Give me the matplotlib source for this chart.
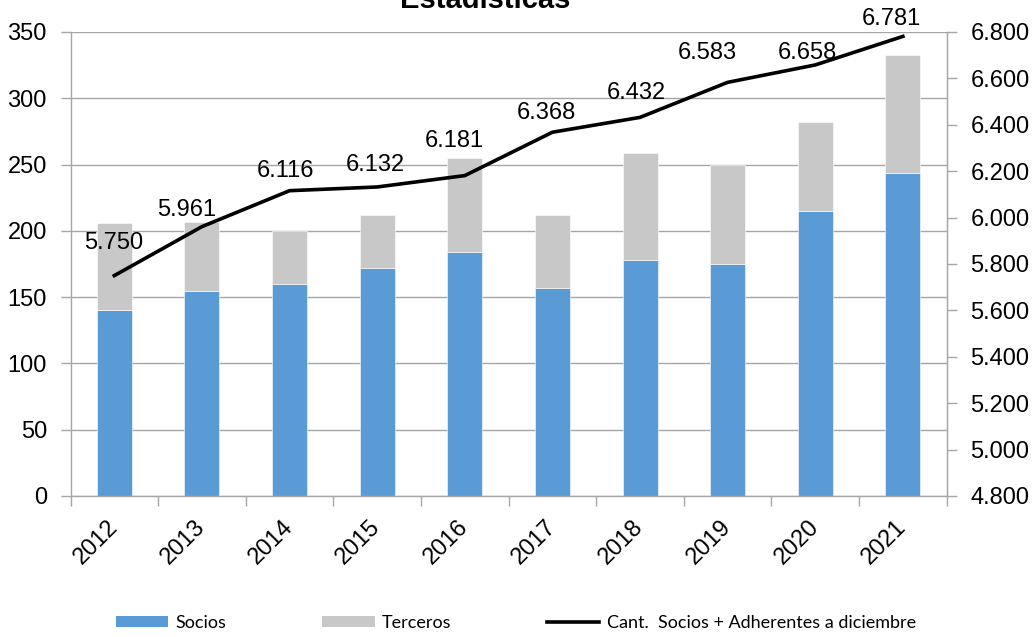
import numpy as np
import matplotlib

matplotlib.use("Agg")
import matplotlib.pyplot as plt
from matplotlib.lines import Line2D
from matplotlib.patches import Patch

years = ["2012", "2013", "2014", "2015", "2016", "2017", "2018", "2019", "2020", "2021"]
socios = [140, 155, 160, 172, 184, 157, 178, 175, 215, 244]
terceros = [66, 52, 40, 40, 71, 55, 81, 75, 67, 89]
adherentes = [5750, 5961, 6116, 6132, 6181, 6368, 6432, 6583, 6658, 6781]

# label nudges in pixels (dx, dy) relative to each line point
label_dx = [-1, -15, -4, -2, -10, -6, -4, -20, -8, -12]
label_dy = [33, 17, 20, 22, 35, 19, 24, 29, 12, 17]

blue = "#5B9BD5"
grey = "#C8C8C8"
axis_grey = "#A6A6A6"


def thousands(v: float) -> str:
    return f"{v:,.0f}".replace(",", ".")


plt.rcParams["font.family"] = ["Liberation Sans", "DejaVu Sans"]

fig = plt.figure(figsize=(10.33, 6.37), dpi=100)
W, H = 1033, 637
ax = fig.add_axes([70.5 / W, 1 - 496 / H, (946.7 - 70.5) / W, (496 - 32) / H])

x = np.arange(len(years))
ax.bar(x, socios, width=0.4, color=blue, edgecolor="white", linewidth=0.4, zorder=2)
ax.bar(x, terceros, width=0.4, bottom=socios, color=grey, edgecolor="white",
       linewidth=0.4, zorder=2)

ax.set_xlim(-0.5, len(years) - 0.5)
ax.set_ylim(0, 350)
ax.set_yticks(np.arange(0, 351, 50))
ax.yaxis.grid(True, color=axis_grey, linewidth=1.0)
ax.set_axisbelow(True)

ax.set_xticks(np.arange(-0.5, len(years), 1))
ax.set_xticklabels([])
ax.set_xticks(x, minor=True)
ax.set_xticklabels(years, minor=True, rotation=45, ha="right", va="center",
                   rotation_mode="anchor", fontsize=17)
ax.tick_params(axis="x", which="major", length=7, color=axis_grey, width=1.0)
ax.tick_params(axis="x", which="minor", length=0, pad=20)
ax.tick_params(axis="y", length=7, color=axis_grey, width=1.0, labelsize=17, pad=10)

ax.spines["top"].set_visible(False)
for side in ["left", "bottom", "right"]:
    ax.spines[side].set_color(axis_grey)
    ax.spines[side].set_linewidth(1.0)

ax2 = ax.twinx()
ax2.plot(x, adherentes, color="black", linewidth=2.6, zorder=3)
ax2.set_ylim(4800, 6800)
ax2.set_yticks(np.arange(4800, 6801, 200))
ax2.set_yticklabels([thousands(v) for v in np.arange(4800, 6801, 200)])
ax2.tick_params(axis="y", length=7, color=axis_grey, width=1.0, labelsize=17, pad=10)
for side in ["top", "left", "bottom"]:
    ax2.spines[side].set_visible(False)
ax2.spines["right"].set_color(axis_grey)

for xi, v, dx, dy in zip(x, adherentes, label_dx, label_dy):
    ax2.annotate(thousands(v), (xi, v), xytext=(dx, dy), textcoords="offset pixels",
                 ha="center", va="center", fontsize=17)

# title sits partly above the canvas, as in the source image
fig.text(485 / W, 1 - 8 / H, "Estadísticas", ha="center", va="baseline",
         fontsize=21, fontweight="bold")

handles = [
    Patch(facecolor=blue, edgecolor="none"),
    Patch(facecolor=grey, edgecolor="none"),
    Line2D([], [], color="black", linewidth=2.6),
]
labels = ["Socios", "Terceros", "Cant.  Socios + Adherentes a diciembre"]
fig.legend(handles, labels, loc="center left", bbox_to_anchor=(116 / W, 1 - 623 / H),
           ncol=3, frameon=False, borderpad=0, borderaxespad=0,
           handlelength=2.9, handleheight=0.6, handletextpad=0.4, columnspacing=5.3,
           prop={"family": ["Lato", "DejaVu Sans"], "size": 13})

fig.savefig("out.png", dpi=100)
